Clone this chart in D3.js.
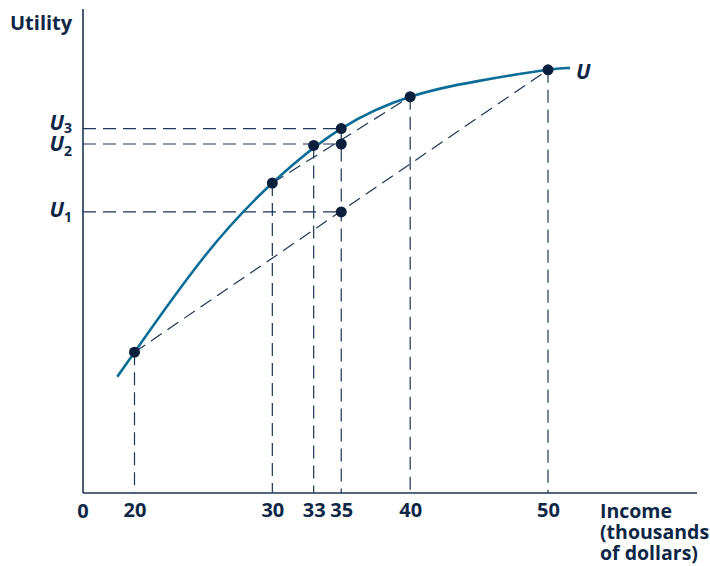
<!DOCTYPE html>
<html>
<head>
<meta charset="utf-8">
<script src="https://cdn.jsdelivr.net/npm/d3@7"></script>
<style>
  html, body { margin: 0; padding: 0; background: #ffffff; }
  svg text { font-family: "Open Sans", "Noto Sans", sans-serif; font-weight: 700; fill: #0e2746; }
</style>
</head>
<body>
<svg id="chart" width="710" height="566"></svg>
<script>
// ---- data ----
const incomeTicks = [20, 30, 33, 35, 40, 50];
const tickLabels = ["20", "30", "33", "35", "40", "50"];

// utility curve U (income in thousands, utility in arbitrary units)
const curveIncome  = [18.75, 20, 25, 30, 35, 40, 45, 50, 51.6];
const curveUtility = [23.9, 29.0, 48.6, 64.1, 75.4, 82.0, 85.3, 87.6, 87.95];

// marked points on the curve
const pointIncome  = [20, 30, 33, 35, 40, 50];
const pointUtility = [29.0, 64.1, 71.9, 75.4, 82.0, 87.6];

// utility levels
const levelNames  = ["U1", "U2", "U3"];
const levelValues = [58.1, 72.2, 75.4];
const levelIncome = 35;

// chords (income pairs)
const chordFrom = [20, 30];
const chordTo   = [50, 40];

// ---- layout ----
const svg = d3.select("#chart");
const ox = 83, oy = 493, axisTop = 9, axisRight = 697;
const navy = "#1d3556", teal = "#0b6d97", dotColor = "#0a1f3c";

const x = d3.scaleLinear().domain([20, 50]).range([134.5, 548]);
const y = d3.scaleLinear().domain([0, 100]).range([492, 10]);
const uOf = inc => pointUtility[pointIncome.indexOf(inc)];

const dash = "13,7";
const g = svg.append("g");

// axes lines
g.append("line").attr("x1", ox).attr("x2", ox).attr("y1", axisTop).attr("y2", oy)
  .attr("stroke", navy).attr("stroke-width", 1.6);
g.append("line").attr("x1", ox).attr("x2", axisRight).attr("y1", oy).attr("y2", oy)
  .attr("stroke", navy).attr("stroke-width", 1.6);

// x axis labels via d3 axis
const xAxis = d3.axisBottom(x).tickValues(incomeTicks)
  .tickFormat((d, i) => tickLabels[i]).tickSize(0).tickPadding(10);
const ax = g.append("g").attr("transform", `translate(0,${oy})`).call(xAxis);
ax.select(".domain").remove();
ax.selectAll("text").attr("font-size", 20).attr("fill", "#0e2746")
  .style("font-family", "'Open Sans', sans-serif").style("font-weight", 700);

g.append("text").attr("x", ox).attr("y", 518).attr("text-anchor", "middle")
  .attr("font-size", 20).text("0");

// axis titles
g.append("text").attr("x", 10).attr("y", 30).attr("font-size", 20).text("Utility");
const inc = g.append("text").attr("x", 600).attr("y", 518).attr("font-size", 19.5);
["Income", "(thousands", "of dollars)"].forEach((t, i) =>
  inc.append("tspan").attr("x", 600).attr("dy", i === 0 ? 0 : 21).text(t));

// vertical dashed drop lines
const drops = g.append("g").attr("stroke", navy).attr("stroke-width", 1.2)
  .attr("stroke-dasharray", dash).attr("fill", "none");
pointIncome.forEach((p, i) => {
  drops.append("line").attr("x1", x(p)).attr("x2", x(p))
    .attr("y1", y(pointUtility[i])).attr("y2", oy);
});

// horizontal level lines
levelValues.forEach(v => {
  drops.append("line").attr("x1", ox).attr("x2", x(levelIncome))
    .attr("y1", y(v)).attr("y2", y(v));
});

// chords
chordFrom.forEach((a, i) => {
  const b = chordTo[i];
  drops.append("line").attr("x1", x(a)).attr("y1", y(uOf(a)))
    .attr("x2", x(b)).attr("y2", y(uOf(b)));
});

// level labels
const labelDy = [5, 7, 1.5];
const subDy = [5, 5, 3];
levelNames.forEach((n, i) => {
  const t = g.append("text").attr("x", 72).attr("y", y(levelValues[i]) + labelDy[i])
    .attr("text-anchor", "end").attr("font-size", 21).attr("font-style", "italic");
  t.append("tspan").text(n[0]);
  t.append("tspan").attr("dy", subDy[i]).attr("font-size", 14).attr("font-style", "normal").text(n.slice(1));
});

// utility curve
const lineGen = d3.line().x(d => x(d[0])).y(d => y(d[1])).curve(d3.curveNatural);
g.append("path").datum(curveIncome.map((c, i) => [c, curveUtility[i]]))
  .attr("d", lineGen).attr("fill", "none").attr("stroke", teal).attr("stroke-width", 2.6);

g.append("text").attr("x", 576).attr("y", 79).attr("font-size", 21)
  .attr("font-style", "italic").text("U");

// dots
const dots = pointIncome.map((p, i) => [p, pointUtility[i]])
  .concat(levelValues.slice(0, 2).map(v => [levelIncome, v]));
g.selectAll("circle.dot").data(dots).enter().append("circle")
  .attr("class", "dot").attr("cx", d => x(d[0])).attr("cy", d => y(d[1]))
  .attr("r", 5.5).attr("fill", dotColor);
</script>
</body>
</html>
